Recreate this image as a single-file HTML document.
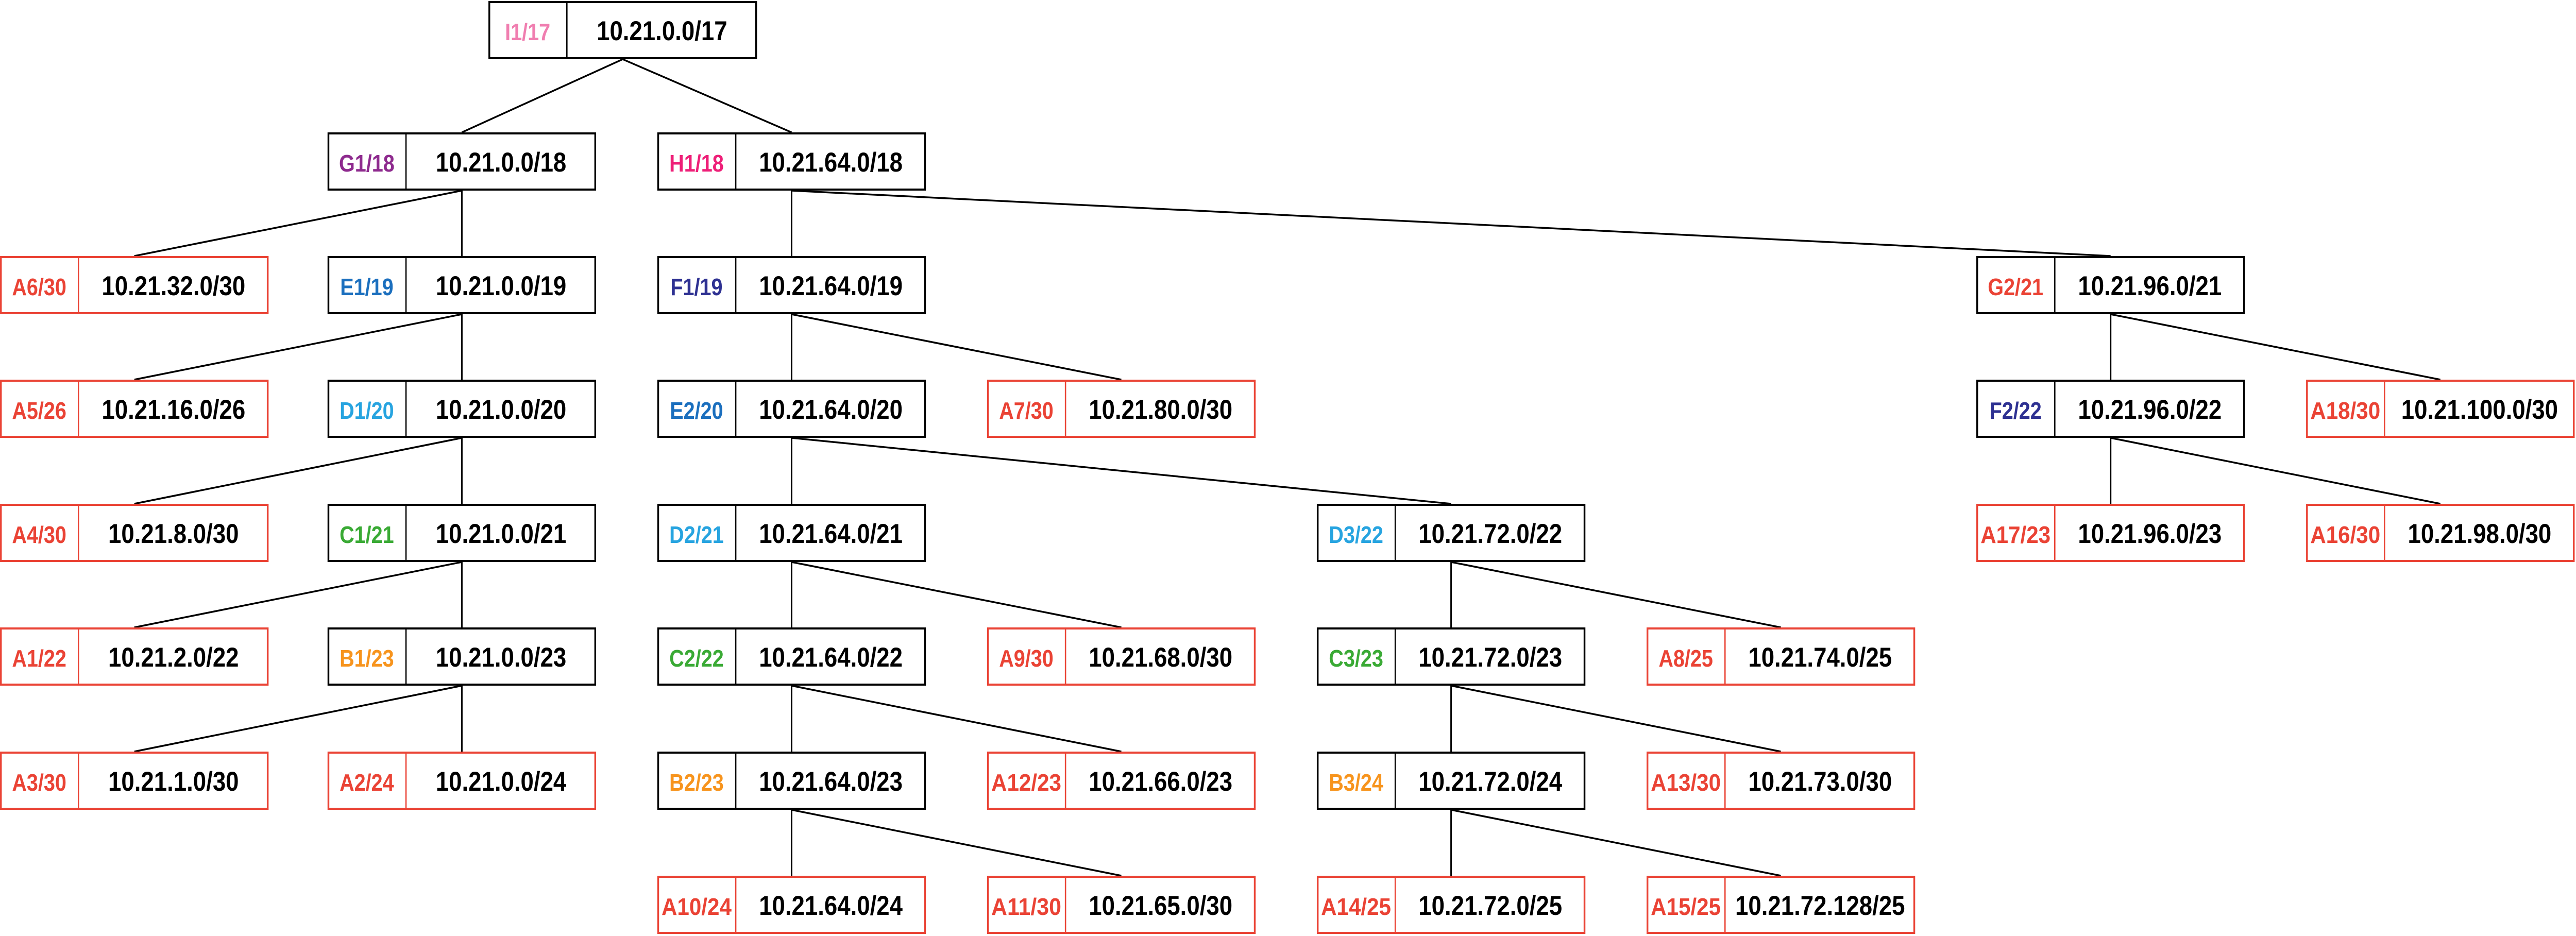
<!DOCTYPE html>
<html><head><meta charset="utf-8"><style>
html,body{margin:0;padding:0;background:#fff;overflow:hidden;width:100%;height:100%;}
svg{display:block;position:absolute;left:0;top:0;width:100vw;height:100vh;}
text{font-family:"Liberation Sans",Arial,sans-serif;font-weight:bold;}
</style></head><body>
<svg id="s" xmlns="http://www.w3.org/2000/svg" viewBox="0 0 5812 1817" preserveAspectRatio="none"></svg>
<script>
const S=document.getElementById('s');
const NS='http://www.w3.org/2000/svg';
const COLS=[0,739,1483,2227,2971,3715,4459,5203];
const ROWS=[2,257,497,737,978,1218,1459,1700];
const W=606,H=113,LW=177;
const RED='#ea4335';
const C={pink:'#f07eb0',purple:'#8e2a8e',mag:'#ee1f78',blue:'#1b6fbe',navy:'#2e3192',lblue:'#27a4e0',green:'#3aaa35',orange:'#f7941d',red:RED};
const N={
I1:[1102,0,'I1/17','10.21.0.0/17','pink',0],
G1:[1,1,'G1/18','10.21.0.0/18','purple',0],
H1:[2,1,'H1/18','10.21.64.0/18','mag',0],
A6:[0,2,'A6/30','10.21.32.0/30','red',1],
E1:[1,2,'E1/19','10.21.0.0/19','blue',0],
F1:[2,2,'F1/19','10.21.64.0/19','navy',0],
G2:[6,2,'G2/21','10.21.96.0/21','red',0],
A5:[0,3,'A5/26','10.21.16.0/26','red',1],
D1:[1,3,'D1/20','10.21.0.0/20','lblue',0],
E2:[2,3,'E2/20','10.21.64.0/20','blue',0],
A7:[3,3,'A7/30','10.21.80.0/30','red',1],
F2:[6,3,'F2/22','10.21.96.0/22','navy',0],
A18:[7,3,'A18/30','10.21.100.0/30','red',1],
A4:[0,4,'A4/30','10.21.8.0/30','red',1],
C1:[1,4,'C1/21','10.21.0.0/21','green',0],
D2:[2,4,'D2/21','10.21.64.0/21','lblue',0],
D3:[4,4,'D3/22','10.21.72.0/22','lblue',0],
A17:[6,4,'A17/23','10.21.96.0/23','red',1],
A16:[7,4,'A16/30','10.21.98.0/30','red',1],
A1:[0,5,'A1/22','10.21.2.0/22','red',1],
B1:[1,5,'B1/23','10.21.0.0/23','orange',0],
C2:[2,5,'C2/22','10.21.64.0/22','green',0],
A9:[3,5,'A9/30','10.21.68.0/30','red',1],
C3:[4,5,'C3/23','10.21.72.0/23','green',0],
A8:[5,5,'A8/25','10.21.74.0/25','red',1],
A3:[0,6,'A3/30','10.21.1.0/30','red',1],
A2:[1,6,'A2/24','10.21.0.0/24','red',1],
B2:[2,6,'B2/23','10.21.64.0/23','orange',0],
A12:[3,6,'A12/23','10.21.66.0/23','red',1],
B3:[4,6,'B3/24','10.21.72.0/24','orange',0],
A13:[5,6,'A13/30','10.21.73.0/30','red',1],
A10:[2,7,'A10/24','10.21.64.0/24','red',1],
A11:[3,7,'A11/30','10.21.65.0/30','red',1],
A14:[4,7,'A14/25','10.21.72.0/25','red',1],
A15:[5,7,'A15/25','10.21.72.128/25','red',1]
};
const E=[['I1','G1'],['I1','H1'],['G1','A6'],['G1','E1'],['H1','F1'],['H1','G2'],['E1','A5'],['E1','D1'],['D1','A4'],['D1','C1'],['C1','A1'],['C1','B1'],['B1','A3'],['B1','A2'],['F1','E2'],['F1','A7'],['E2','D2'],['E2','D3'],['D2','C2'],['D2','A9'],['C2','B2'],['C2','A12'],['B2','A10'],['B2','A11'],['D3','C3'],['D3','A8'],['C3','B3'],['C3','A13'],['B3','A14'],['B3','A15'],['G2','F2'],['G2','A18'],['F2','A17'],['F2','A16']];
function pos(k){const n=N[k];const x=k==='I1'?n[0]:COLS[n[0]];return [x,ROWS[n[1]]];}
function el(t,a,txt){const e=document.createElementNS(NS,t);for(const k in a)e.setAttribute(k,a[k]);if(txt)e.textContent=txt;S.appendChild(e);return e;}
for(const [p,c] of E){const [px,py]=pos(p),[cx,cy]=pos(c);
 el('line',{x1:px+W/2,y1:py+H,x2:cx+W/2,y2:cy,stroke:'#000','stroke-width':3.5});}
for(const k in N){const n=N[k];const [x,y]=pos(k);const col=n[5]?RED:'#000';
 el('rect',{x:x+2,y:y+2,width:W-4,height:H-4,fill:'#fff',stroke:col,'stroke-width':4});
 el('line',{x1:x+LW,y1:y+2,x2:x+LW,y2:y+H-2,stroke:col,'stroke-width':3});
 const la={x:x+LW/2,y:y+76,'text-anchor':'middle','font-size':46,fill:C[n[4]]};
 if(n[2].length>=6){la.textLength=158;la.lengthAdjust='spacingAndGlyphs';}
 el('text',la,n[2]);
 el('text',{x:x+LW+(W-LW)/2,y:y+76,'text-anchor':'middle','font-size':53,fill:'#000'},n[3]);
}
</script>
</body></html>
